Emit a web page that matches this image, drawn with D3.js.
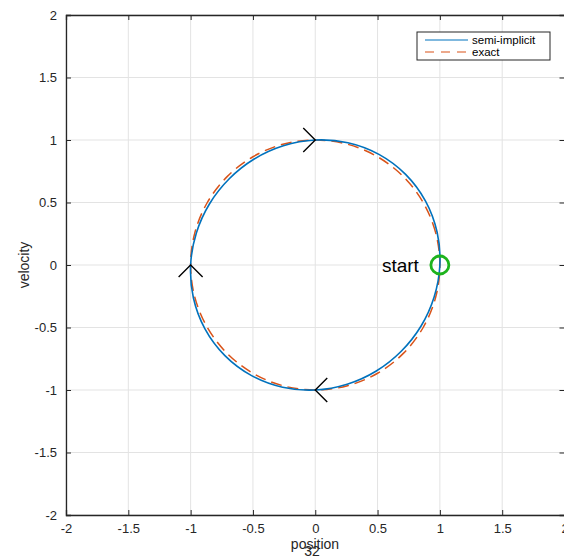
<!DOCTYPE html>
<html>
<head>
<meta charset="utf-8">
<script src="https://cdn.jsdelivr.net/npm/d3@7"></script>
<style>
  body { margin: 0; background: #fff; }
  svg { display: block; font-family: "Liberation Sans", Arial, sans-serif; }
</style>
</head>
<body>
<div id="container"></div>
<script>
// ticks
var xTicks = [-2, -1.5, -1, -0.5, 0, 0.5, 1, 1.5, 2];
var yTicks = [-2, -1.5, -1, -0.5, 0, 0.5, 1, 1.5, 2];

// semi-implicit trajectory (position, velocity)
var semiX = [1, 0.978, 0.885, 0.725, 0.511, 0.262, 0, -0.256, -0.490, -0.690, -0.848, -0.954,
             -1, -0.978, -0.885, -0.725, -0.511, -0.262, 0, 0.256, 0.490, 0.690, 0.848, 0.954];
var semiV = [0, 0.262, 0.511, 0.725, 0.885, 0.978, 1, 0.954, 0.848, 0.690, 0.490, 0.256,
             0, -0.262, -0.511, -0.725, -0.885, -0.978, -1, -0.954, -0.848, -0.690, -0.490, -0.256];

// exact solution (unit circle)
var exactX = [1, 0.966, 0.866, 0.707, 0.5, 0.259, 0, -0.259, -0.5, -0.707, -0.866, -0.966,
              -1, -0.966, -0.866, -0.707, -0.5, -0.259, 0, 0.259, 0.5, 0.707, 0.866, 0.966];
var exactV = [0, 0.259, 0.5, 0.707, 0.866, 0.966, 1, 0.966, 0.866, 0.707, 0.5, 0.259,
              0, -0.259, -0.5, -0.707, -0.866, -0.966, -1, -0.966, -0.866, -0.707, -0.5, -0.259];

// direction arrows: position, velocity, heading (deg)
var arrowX = [0, -1, 0];
var arrowV = [1, 0, -1];
var arrowDir = [0, -90, 180];

var startPoint = [1, 0];
var legendNames = ["semi-implicit", "exact"];
var colors = ["#0072BD", "#D95319"];

var width = 564, height = 557;
var svg = d3.select("#container").append("svg")
    .attr("width", width)
    .attr("height", height);

var x = d3.scaleLinear().domain([-2, 2]).range([66, 564.5]);
var y = d3.scaleLinear().domain([-2, 2]).range([515, 15]);

// grid
svg.append("g").selectAll("line")
    .data(xTicks)
  .enter().append("line")
    .attr("x1", function(d) { return x(d); })
    .attr("x2", function(d) { return x(d); })
    .attr("y1", y(-2)).attr("y2", y(2))
    .attr("stroke", "#e3e3e3");
svg.append("g").selectAll("line")
    .data(yTicks)
  .enter().append("line")
    .attr("y1", function(d) { return y(d); })
    .attr("y2", function(d) { return y(d); })
    .attr("x1", x(-2)).attr("x2", x(2))
    .attr("stroke", "#e3e3e3");

// axes
var xAxis = d3.axisBottom(x).tickValues(xTicks).tickSize(-5).tickPadding(9)
    .tickFormat(function(d) { return d; });
var yAxis = d3.axisLeft(y).tickValues(yTicks).tickSize(-5).tickPadding(9)
    .tickFormat(function(d) { return d; });

var gx = svg.append("g").attr("transform", "translate(0," + y(-2) + ")").call(xAxis);
var gy = svg.append("g").attr("transform", "translate(" + x(-2) + ",0)").call(yAxis);
[gx, gy].forEach(function(g) {
  g.select(".domain").attr("stroke", "#262626").attr("stroke-width", 1.3);
  g.selectAll(".tick line").attr("stroke", "#262626");
  g.selectAll(".tick text").attr("fill", "#262626").style("font-size", "13px");
});

// top / right box edges with ticks
var gt = svg.append("g").attr("transform", "translate(0," + y(2) + ")")
    .call(d3.axisTop(x).tickValues(xTicks).tickSize(-5).tickFormat(""));
var gr = svg.append("g").attr("transform", "translate(" + x(2) + ",0)")
    .call(d3.axisRight(y).tickValues(yTicks).tickSize(-5).tickFormat(""));
[gt, gr].forEach(function(g) {
  g.select(".domain").attr("stroke", "#262626").attr("stroke-width", 1.3);
  g.selectAll(".tick line").attr("stroke", "#262626");
});

// axis labels
svg.append("text")
    .attr("x", 315).attr("y", 549)
    .attr("text-anchor", "middle")
    .attr("fill", "#262626")
    .style("font-size", "14px")
    .text("position");
svg.append("text")
    .attr("x", 312).attr("y", 556)
    .attr("text-anchor", "middle")
    .attr("fill", "#262626")
    .style("font-size", "14px")
    .text("32");
svg.append("text")
    .attr("transform", "translate(29," + y(0) + ") rotate(-90)")
    .attr("text-anchor", "middle")
    .attr("fill", "#262626")
    .style("font-size", "14px")
    .text("velocity");

// curves
var line = d3.line()
    .x(function(d) { return x(d[0]); })
    .y(function(d) { return y(d[1]); })
    .curve(d3.curveCatmullRomClosed);

var exactPts = exactX.map(function(v, i) { return [v, exactV[i]]; });
var semiPts = semiX.map(function(v, i) { return [v, semiV[i]]; });

svg.append("path")
    .attr("d", line(exactPts))
    .attr("fill", "none")
    .attr("stroke", colors[1])
    .attr("stroke-width", 1.5)
    .attr("stroke-dasharray", "11,6");
svg.append("path")
    .attr("d", line(semiPts))
    .attr("fill", "none")
    .attr("stroke", colors[0])
    .attr("stroke-width", 1.6);

// arrows
svg.append("g").selectAll("path")
    .data(arrowX.map(function(v, i) { return [v, arrowV[i], arrowDir[i]]; }))
  .enter().append("path")
    .attr("transform", function(d) {
      return "translate(" + x(d[0]) + "," + y(d[1]) + ") rotate(" + d[2] + ")";
    })
    .attr("d", "M-12,-12L0,0L-12,12")
    .attr("fill", "none")
    .attr("stroke", "#000")
    .attr("stroke-width", 1.4);

// start marker
svg.append("circle")
    .attr("cx", x(startPoint[0])).attr("cy", y(startPoint[1]))
    .attr("r", 9)
    .attr("fill", "none")
    .attr("stroke", "#1db31d")
    .attr("stroke-width", 2.8);
svg.append("text")
    .attr("x", x(startPoint[0]) - 21).attr("y", y(startPoint[1]))
    .attr("dy", "0.35em")
    .attr("text-anchor", "end")
    .attr("fill", "#000")
    .style("font-size", "19px")
    .text("start");

// legend
var lg = svg.append("g").attr("transform", "translate(417,32)");
lg.append("rect")
    .attr("width", 133).attr("height", 28)
    .attr("fill", "#fff")
    .attr("stroke", "#262626")
    .attr("stroke-width", 1);
legendNames.forEach(function(name, i) {
  var yy = 8 + i * 12;
  lg.append("line")
      .attr("x1", 8).attr("x2", 51)
      .attr("y1", yy).attr("y2", yy)
      .attr("stroke", colors[i])
      .attr("stroke-width", 1.2)
      .attr("stroke-dasharray", i === 1 ? "9,7" : null);
  lg.append("text")
      .attr("x", 55).attr("y", yy)
      .attr("dy", "0.35em")
      .attr("fill", "#000")
      .style("font-size", "11.5px")
      .text(name);
});
</script>
</body>
</html>
